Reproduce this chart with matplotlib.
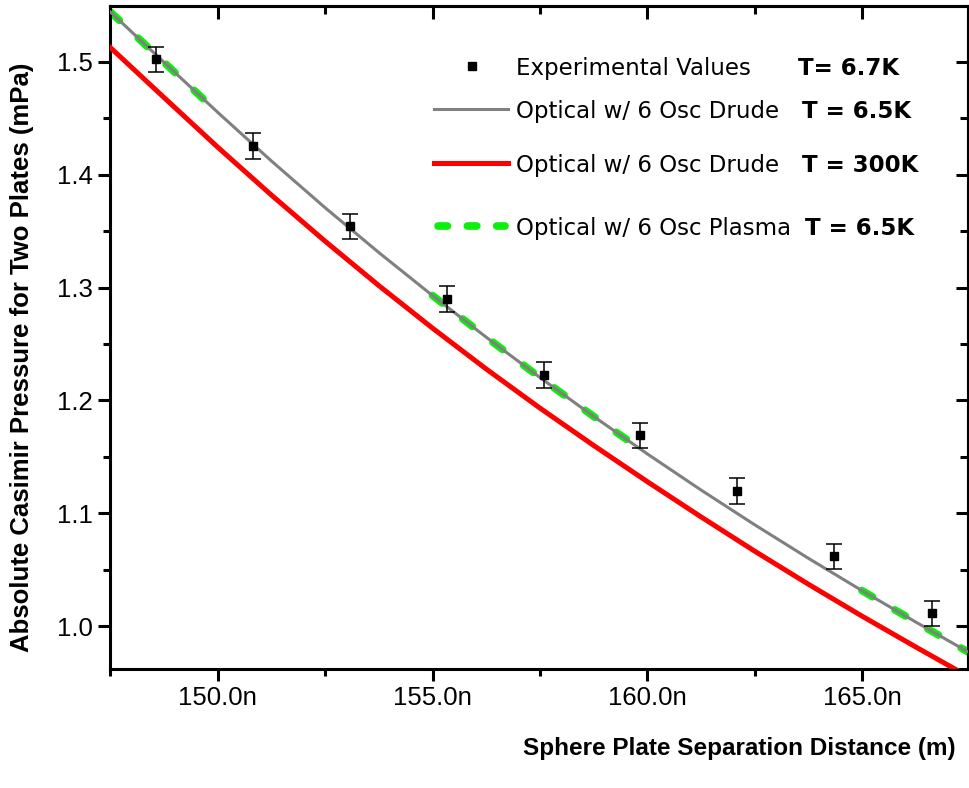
import numpy as np
import matplotlib
matplotlib.use("Agg")
import matplotlib.pyplot as plt
from matplotlib.ticker import MultipleLocator, FuncFormatter

# separation (nm) and measured pressure (mPa)
exp_x = [148.57, 150.82, 153.07, 155.33, 157.59, 159.84, 162.10, 164.36, 166.63]
exp_y = [1.5024, 1.4255, 1.3543, 1.2899, 1.2222, 1.1690, 1.1197, 1.0618, 1.0112]
exp_err = [0.0112, 0.0115, 0.0112, 0.0114, 0.0115, 0.0111, 0.0112, 0.0112, 0.0115]

# theory curves
th_x = [147.5, 148.75, 150.0, 151.25, 152.5, 153.75, 155.0, 156.25, 157.5,
        158.75, 160.0, 161.25, 162.5, 163.75, 165.0, 166.25, 167.5]
drude_65 = [1.5443, 1.4996, 1.4553, 1.4122, 1.3708, 1.3311, 1.2930, 1.2561, 1.2204,
            1.1859, 1.1527, 1.1207, 1.0899, 1.0602, 1.0315, 1.0037, 0.9765]
drude_300 = [1.5127, 1.4684, 1.4244, 1.3820, 1.3411, 1.3018, 1.2641, 1.2279, 1.1933,
             1.1602, 1.1281, 1.0969, 1.0665, 1.0372, 1.0089, 0.9816, 0.9548]

# plasma curve only drawn on three stretches
plasma_x = [147.5, 148.75, 150.0, np.nan, 155.0, 156.25, 157.5, 158.75, 160.0,
            np.nan, 165.0, 166.25, 167.5]
plasma_y = [1.5443, 1.4996, 1.4553, np.nan, 1.2930, 1.2561, 1.2204, 1.1859, 1.1527,
            np.nan, 1.0315, 1.0037, 0.9765]

green = '#0bf00b'

fig = plt.figure(figsize=(9.69, 7.88), dpi=100)
ax = fig.add_axes([110/969, 1-669/788, 858/969, 663/788])

ax.plot(plasma_x, plasma_y, color=green, lw=5.5, linestyle=(0, (1.6, 3.4)),
        dash_capstyle='round', zorder=2)
ax.plot(th_x, drude_65, color='#808080', lw=2.2, zorder=3)
ax.plot(th_x, drude_300, color='#ff0000', lw=3.6, zorder=3)
ax.errorbar(exp_x, exp_y, yerr=exp_err, fmt='s', color='black', ms=5.5,
            elinewidth=1.1, capsize=6, capthick=1.1, zorder=4)

ax.set_xlim(147.49, 167.47)
ax.set_ylim(0.962, 1.5496)

ax.xaxis.set_major_locator(MultipleLocator(5))
ax.xaxis.set_minor_locator(MultipleLocator(2.5))
ax.yaxis.set_major_locator(MultipleLocator(0.1))
ax.yaxis.set_minor_locator(MultipleLocator(0.05))
ax.xaxis.set_major_formatter(FuncFormatter(lambda v, p: f"{v:.1f}n"))
ax.yaxis.set_major_formatter(FuncFormatter(lambda v, p: f"{v:.1f}"))

for s in ax.spines.values():
    s.set_linewidth(2.2)
ax.tick_params(which='major', direction='out', length=8.5, width=2.2,
               labelsize=18.5, pad=4)
ax.tick_params(which='minor', direction='out', length=5, width=2.2)
for lab in ax.get_xticklabels() + ax.get_yticklabels():
    lab.set_family('Liberation Sans')

# ticks pointing inward on top and right
top = ax.secondary_xaxis('top')
top.xaxis.set_major_locator(MultipleLocator(5))
top.xaxis.set_minor_locator(MultipleLocator(2.5))
top.tick_params(which='major', direction='in', length=9, width=2.2, labeltop=False)
top.tick_params(which='minor', direction='in', length=6, width=2.2)
top.spines['top'].set_linewidth(2.2)
right = ax.secondary_yaxis('right')
right.yaxis.set_major_locator(MultipleLocator(0.1))
right.yaxis.set_minor_locator(MultipleLocator(0.05))
right.tick_params(which='major', direction='in', length=9, width=2.2, labelright=False)
right.tick_params(which='minor', direction='in', length=6, width=2.2)
right.spines['right'].set_linewidth(2.2)

ax.set_xlabel('Sphere Plate Separation Distance (m)', family='Liberation Sans',
              fontweight='bold', fontsize=17.5, ha='right', va='center')
ax.xaxis.set_label_coords((956-110)/858, (669-748)/663)
ax.set_ylabel('Absolute Casimir Pressure for Two Plates (mPa)', family='Liberation Sans',
              fontweight='bold', fontsize=18.5, ha='center', va='center')
ax.yaxis.set_label_coords((22-110)/858, (669-357)/663)

# hand-built legend
tr = ax.transAxes
rows = [0.909, 0.8446, 0.7632, 0.6688]
ax.plot([0.4217], [rows[0]], 's', color='black', ms=5.5, transform=tr, clip_on=False)
ax.plot([0.3776, 0.4633], [rows[1]] * 2, color='#808080', lw=2.2, transform=tr)
ax.plot([0.3776, 0.4633], [rows[2]] * 2, color='#ff0000', lw=3.6, transform=tr)
ax.plot([0.3820, 0.4600], [rows[3]] * 2, color=green, lw=5.5,
        linestyle=(0, (1.24, 2.6)), dash_capstyle='round', transform=tr)

names = ['Experimental Values', 'Optical w/ 6 Osc Drude',
         'Optical w/ 6 Osc Drude', 'Optical w/ 6 Osc Plasma']
temps = ['T= 6.7K', 'T = 6.5K', 'T = 300K', 'T = 6.5K']
temp_x = [0.8019, 0.806, 0.806, 0.810]
for r, n, t, tx in zip(rows, names, temps, temp_x):
    ax.text(0.4732, r, n, transform=tr, fontsize=16.5, family='DejaVu Sans',
            va='center_baseline')
    ax.text(tx, r, t, transform=tr, fontsize=16.5, family='DejaVu Sans',
            fontweight='bold', va='center_baseline')

fig.savefig('out.png', dpi=100)
